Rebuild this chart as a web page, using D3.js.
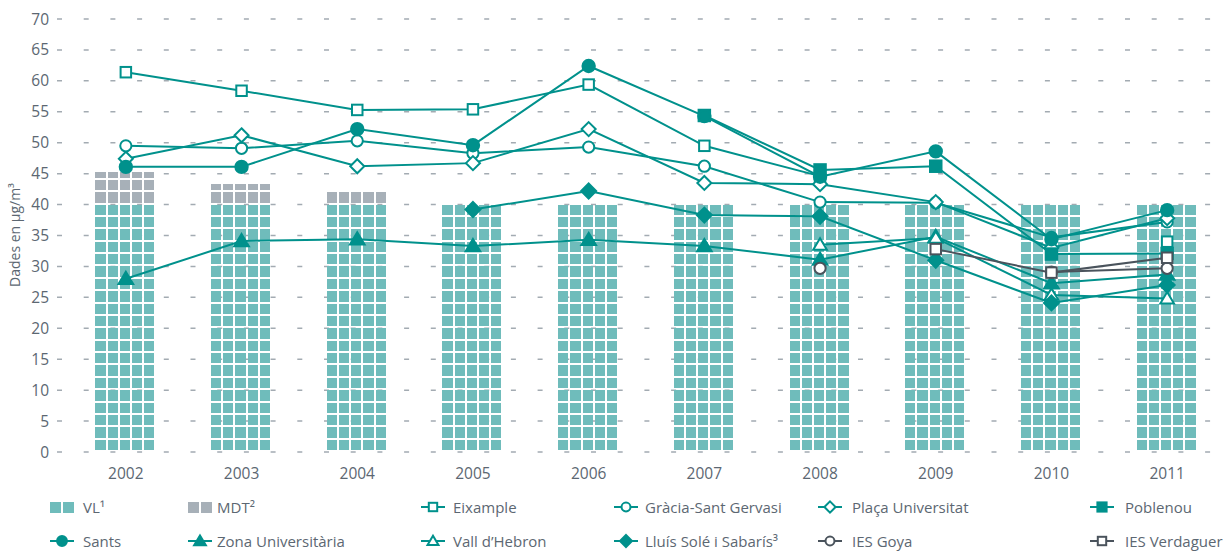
<!DOCTYPE html>
<html>
<head>
<meta charset="utf-8">
<script src="https://cdn.jsdelivr.net/npm/d3@7"></script>
<style>
  body { margin: 0; background: #fff; }
  text { font-family: "Open Sans", "Noto Sans", sans-serif; fill: #5c6772; }
</style>
</head>
<body>
<div id="chart"></div>
<script>
// Data
const years = ["2002","2003","2004","2005","2006","2007","2008","2009","2010","2011"];
const vl  = [40, 40, 40, 40, 40, 40, 40, 40, 40, 40];
const mdt = [45.2, 43.3, 42.2, null, null, null, null, null, null, null];
const yTicks = [0,5,10,15,20,25,30,35,40,45,50,55,60,65,70];

const eixample   = [61.4, 58.4, 55.3, 55.4, 59.4, 49.5, 44.6, null, null, 34.0];
const gracia     = [49.5, 49.1, 50.3, 48.3, 49.3, 46.2, 40.4, 40.3, 34.7, 37.2];
const placa      = [47.4, 51.2, 46.2, 46.7, 52.2, 43.5, 43.3, 40.4, 33.0, 37.8];
const poblenou   = [null, null, null, null, null, 54.4, 45.6, 46.2, 32.0, 32.1];
const sants      = [46.1, 46.1, 52.2, 49.6, 62.4, 54.3, 44.5, 48.6, 34.4, 39.1];
const zonaUniv   = [28.0, 34.1, 34.4, 33.3, 34.3, 33.3, 31.1, 34.8, 27.3, 28.7];
const vallHebron = [null, null, null, null, null, null, 33.5, 34.6, 25.4, 24.8];
const lluisSole  = [null, null, null, 39.2, 42.2, 38.3, 38.1, 31.0, 24.1, 27.0];
const iesGoya    = [null, null, null, null, null, null, 29.7, null, 29.1, 29.7];
const iesVerdag  = [null, null, null, null, null, null, null, 32.8, 29.0, 31.4];

const teal = "#00918c";
const dark = "#4a535c";

const series = [
  { name: "Eixample", values: eixample, shape: "square", filled: false, color: teal },
  { name: "Gràcia-Sant Gervasi", values: gracia, shape: "circle", filled: false, color: teal },
  { name: "Plaça Universitat", values: placa, shape: "diamond", filled: false, color: teal },
  { name: "Poblenou", values: poblenou, shape: "square", filled: true, color: teal },
  { name: "Sants", values: sants, shape: "circle", filled: true, color: teal },
  { name: "Zona Universitària", values: zonaUniv, shape: "triangle", filled: true, color: teal },
  { name: "Vall d\u2019Hebron", values: vallHebron, shape: "triangle", filled: false, color: teal },
  { name: "Lluís Solé i Sabarís\u00b3", values: lluisSole, shape: "diamond", filled: true, color: teal },
  { name: "IES Goya", values: iesGoya, shape: "circle", filled: false, color: dark },
  { name: "IES Verdaguer", values: iesVerdag, shape: "square", filled: false, color: dark }
];

const W = 1232, H = 560;
const plot = { left: 68, right: 1225, top: 19, bottom: 452 };

const svg = d3.select("#chart").append("svg")
  .attr("width", W).attr("height", H);

const x = d3.scaleBand().domain(years).range([plot.left, plot.right]).padding(0);
const y = d3.scaleLinear().domain([0, 70]).range([plot.bottom, plot.top]);
const cx = d => x(d) + x.bandwidth() / 2;

// dashed grid lines
svg.append("g").selectAll("line")
  .data(yTicks).enter().append("line")
  .attr("x1", 57).attr("x2", plot.right)
  .attr("y1", d => y(d)).attr("y2", d => y(d))
  .attr("stroke", "#a3abb2").attr("stroke-width", 1.5)
  .attr("stroke-dasharray", "5 21.7");

// y tick labels
svg.append("g").selectAll("text")
  .data(yTicks).enter().append("text")
  .attr("x", 49).attr("y", d => y(d) + 5.5)
  .attr("text-anchor", "end")
  .attr("font-size", 15.5)
  .text(d => d);

// x labels
svg.append("g").selectAll("text")
  .data(years).enter().append("text")
  .attr("x", d => cx(d)).attr("y", 479)
  .attr("text-anchor", "middle")
  .attr("font-size", 15.5)
  .text(d => d);

// y axis title
svg.append("text")
  .attr("transform", "translate(20,235) rotate(-90)")
  .attr("text-anchor", "middle")
  .attr("font-size", 14)
  .text("Dades en µg/m³");

// bars made of small cells (one row = 2 units), snapped to whole pixels
const barW = 61, nCols = 5, gap = 2;
const colW = barW / nCols;
function cellsFor(i) {
  const cells = [];
  const pushRange = (lo, hi, fill) => {
    for (let v = lo; v < hi - 0.01; v += 2) {
      const top = Math.min(v + 2, hi);
      for (let c = 0; c < nCols; c++) {
        cells.push({ year: years[i], v0: v, v1: top, col: c, fill: fill });
      }
    }
  };
  pushRange(0, vl[i], "#6fbcbb");
  if (mdt[i] != null) pushRange(vl[i], mdt[i], "#a7b0b8");
  return cells;
}
const allCells = years.flatMap((yr, i) => cellsFor(i));
const cellX0 = d => Math.round(cx(d.year) - barW / 2 + d.col * colW);
const cellX1 = d => Math.round(cx(d.year) - barW / 2 + (d.col + 1) * colW) - gap;
svg.append("g").attr("shape-rendering", "crispEdges")
  .selectAll("rect")
  .data(allCells).enter().append("rect")
  .attr("x", cellX0)
  .attr("y", d => Math.round(y(d.v1)))
  .attr("width", d => cellX1(d) - cellX0(d))
  .attr("height", d => Math.max(0, Math.round(y(d.v0)) - Math.round(y(d.v1)) - gap))
  .attr("fill", d => d.fill);

// marker drawing
function drawMarker(g, shape, filled, color, k = 1) {
  const fill = filled ? color : "#fff";
  if (shape === "circle") {
    g.append("circle").attr("r", (filled ? 6.2 : 5.6) * k)
      .attr("fill", fill).attr("stroke", color).attr("stroke-width", 2);
  } else if (shape === "square") {
    const s = (filled ? 11.5 : 10.5) * k;
    g.append("rect").attr("x", -s / 2).attr("y", -s / 2)
      .attr("width", s).attr("height", s)
      .attr("fill", fill).attr("stroke", color).attr("stroke-width", 2);
  } else if (shape === "diamond") {
    const r = (filled ? 7.5 : 7) * k;
    g.append("path").attr("d", `M0,${-r}L${r},0L0,${r}L${-r},0Z`)
      .attr("fill", fill).attr("stroke", color).attr("stroke-width", 2);
  } else if (shape === "triangle") {
    const r = (filled ? 7 : 6.5) * k;
    g.append("path").attr("d", `M0,${-r}L${r * 1.05},${r * 0.75}L${-r * 1.05},${r * 0.75}Z`)
      .attr("fill", fill).attr("stroke", color).attr("stroke-width", 2)
      .attr("stroke-linejoin", "miter");
  }
}

const line = d3.line()
  .defined(d => d.v != null)
  .x(d => cx(d.year))
  .y(d => y(d.v));

series.forEach(s => {
  const pts = years.map((yr, i) => ({ year: yr, v: s.values[i] }));
  const g = svg.append("g");
  g.append("path").datum(pts)
    .attr("d", line)
    .attr("fill", "none")
    .attr("stroke", s.color)
    .attr("stroke-width", 2);
  pts.filter(p => p.v != null).forEach(p => {
    const m = g.append("g").attr("transform", `translate(${cx(p.year)},${y(p.v)})`);
    drawMarker(m, s.shape, s.filled, s.color);
  });
});

// legend
const legend = svg.append("g");
const colX = [50, 188, 421, 614, 818, 1090];
const textX = [83, 217, 453, 645, 852, 1125];
const rowY = [507, 541];
const legendItems = [
  { label: "VL\u00b9", swatch: "#6fbcbb" },
  { label: "MDT\u00b2", swatch: "#a7b0b8" },
  series[0], series[1], series[2], series[3],
  series[4], series[5], series[6], series[7], series[8], series[9]
];
legendItems.forEach((it, i) => {
  const col = i % 6, row = Math.floor(i / 6);
  const lx = colX[col], ly = rowY[row];
  if (it.swatch) {
    legend.append("rect").attr("x", lx).attr("y", ly - 5)
      .attr("width", 11).attr("height", 11).attr("fill", it.swatch);
    legend.append("rect").attr("x", lx + 13).attr("y", ly - 5)
      .attr("width", 11).attr("height", 11).attr("fill", it.swatch);
  } else {
    legend.append("line").attr("x1", lx).attr("x2", lx + 24)
      .attr("y1", ly).attr("y2", ly)
      .attr("stroke", it.color).attr("stroke-width", 2);
    const m = legend.append("g").attr("transform", `translate(${lx + 12},${ly})`);
    drawMarker(m, it.shape, it.filled, it.color, 0.8);
  }
  legend.append("text").attr("x", textX[col]).attr("y", ly + 5.5)
    .attr("font-size", 15)
    .text(it.label || it.name);
});
</script>
</body>
</html>
